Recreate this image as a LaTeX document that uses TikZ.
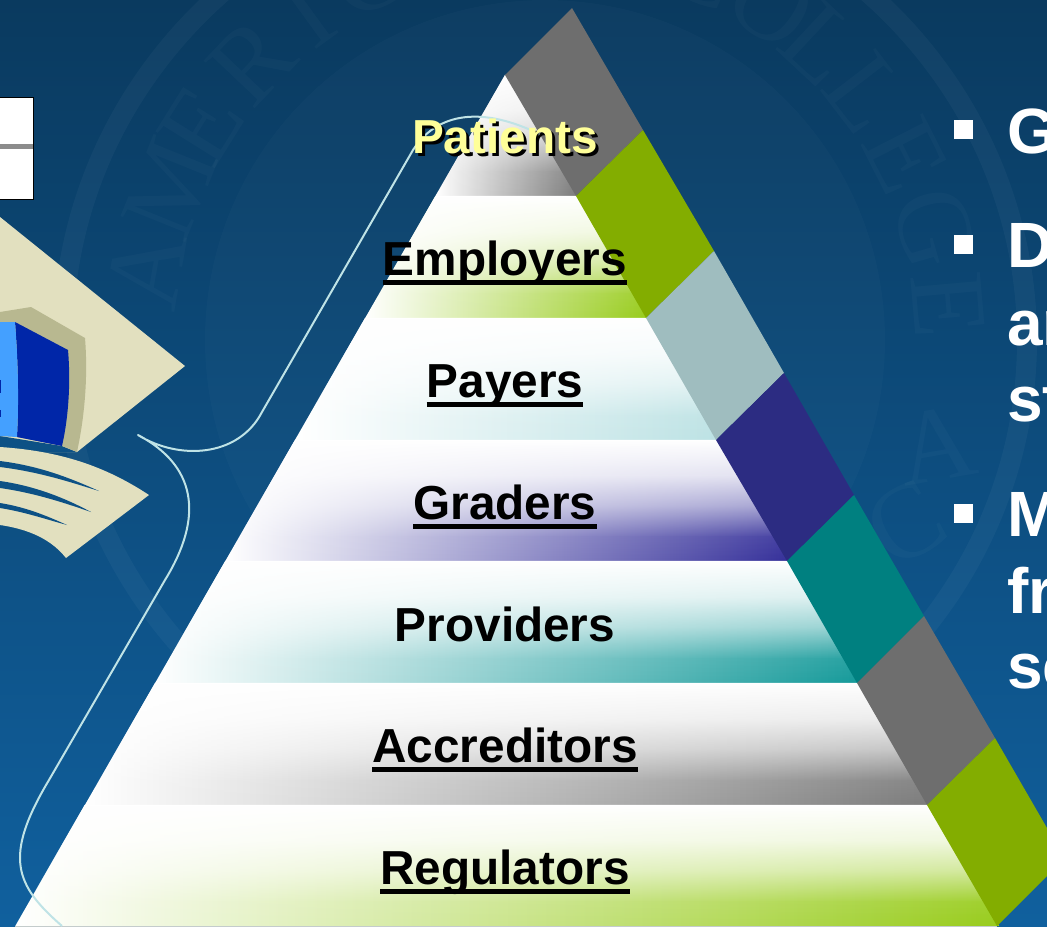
\documentclass[tikz,border=0pt]{standalone}
\usepackage{fontspec}
\setmainfont{Liberation Sans}
\newfontfamily\sealfont{Liberation Serif}
\usetikzlibrary{fadings}
\definecolor{bgtop}{HTML}{0A3A5F}
\definecolor{bgmid}{HTML}{0C4A7A}
\definecolor{bgbot}{HTML}{10609E}
\definecolor{capbeige}{HTML}{E2E0BF}
\definecolor{capolive}{HTML}{B8B890}
\definecolor{capdark}{HTML}{0026A8}
\definecolor{caplight}{HTML}{44A0FF}
\definecolor{bracecol}{HTML}{BFE3E6}
\definecolor{bandgray}{HTML}{6E6E6E}
\definecolor{bandgreen}{HTML}{83AD00}
\definecolor{bandpale}{HTML}{9FBDBF}
\definecolor{bandnavy}{HTML}{2C2C82}
\definecolor{bandteal}{HTML}{008080}
\definecolor{tiergray}{HTML}{7C7C7C}
\definecolor{tiergreen}{HTML}{98CC1C}
\definecolor{tierpale}{HTML}{BCE2E4}
\definecolor{tiernavy}{HTML}{35309A}
\definecolor{tierteal}{HTML}{159A9A}
\definecolor{tierrule}{HTML}{C4CCCC}
\definecolor{patientcol}{HTML}{FFFF99}
\newsavebox{\ulbox}
\newcommand{\ulword}[1]{\sbox{\ulbox}{#1}\rlap{\rule[-7.5pt]{\wd\ulbox}{3.6pt}}\usebox{\ulbox}}
\begin{tikzfadingfrompicture}[name=tierfade]
  \fill[transparent!0] (-50bp,24.8bp) rectangle (50bp,50bp);
  \shade[top color=transparent!0, bottom color=transparent!15] (-50bp,10bp) rectangle (50bp,25bp);
  \shade[top color=transparent!15, bottom color=transparent!45] (-50bp,-2.5bp) rectangle (50bp,10.2bp);
  \shade[top color=transparent!45, bottom color=transparent!92] (-50bp,-15bp) rectangle (50bp,-2.3bp);
  \shade[top color=transparent!92, bottom color=transparent!100] (-50bp,-25bp) rectangle (50bp,-14.8bp);
  \fill[transparent!100] (-50bp,-50bp) rectangle (50bp,-24.8bp);
\end{tikzfadingfrompicture}
% #1 top y, #2 bottom y, #3 colour; the right edge runs on beneath the side bands
\newcommand{\tier}[3]{%
  \shade[left color=white, middle color=#3!25!white, right color=#3]
    ({505-0.5755*(#1-75)},#1) -- ({507+0.5785*(#1-75)},#1) -- ({507+0.5785*(#2-75)},#2) -- ({505-0.5755*(#2-75)},#2) -- cycle;
  \fill[white, path fading=tierfade]
    ({505-0.5755*(#1-75)},#1) -- ({507+0.5785*(#1-75)},#1) -- ({507+0.5785*(#2-75)},#2) -- ({505-0.5755*(#2-75)},#2) -- cycle;
  \draw[tierrule, line width=0.5pt] ({505-0.5755*(#2-75)},#2) -- ({505+0.5785*(#2-75)},#2);
}
\tikzset{
  tierlabel/.style={anchor=base, inner sep=0pt, font=\fontsize{35.8}{40}\selectfont\bfseries, text=black},
  bodytext/.style={anchor=base west, inner sep=0pt, font=\fontsize{48}{52}\selectfont\bfseries, text=white},
  sealletter/.style={inner sep=0pt, font=\sealfont\fontsize{80}{80}\selectfont, text=white, text opacity=0.025},
  bullet/.style={fill=white, draw=none},
}
\begin{document}
\begin{tikzpicture}[x=0.75pt,y=-0.75pt]
\useasboundingbox (0,0) rectangle (1047,926);
\clip (0,0) rectangle (1047,926);
% background
\shade[top color=bgtop, middle color=bgmid, bottom color=bgbot] (0,0) rectangle (1047,926);
% faint seal
\draw[white, opacity=0.035, line width=15pt] (545,340) ellipse [x radius=482, y radius=468];
\fill[white, opacity=0.02] (545,340) circle [radius=340];
\foreach \l/\a/\r in {A/170/80,M/158/68,E/148/58,R/136.5/46.5,I/126/36,C/116/26,A/105/15,N/94/4,C/67/-23,O/56/-34,L/47/-43,L/37.5/-52.5,E/27/-63,G/16/-74,E/5/-85,A/-15/10,C/-27/30}{
  \node[sealletter, rotate=\r] at ({545+405*cos(\a)},{340-405*sin(\a)}) {\l};
}
% mortarboard at the left
\fill[capbeige] (0,217) -- (185,366) -- (77,452) -- (0,452) -- cycle;
\fill[bgmid!70!bgbot] (0,436) -- (62,446) -- (77,452) -- (0,452) -- cycle;
\fill[capolive] (0,312) -- (31,307) -- (85,338) .. controls (88,375) and (85,415) .. (77,452) -- (62,446) -- (17,437) -- (0,436) -- cycle;
\fill[capdark] (15,322) -- (68,350) .. controls (71,385) and (68,420) .. (62,446) -- (17,437) .. controls (19,400) and (18,360) .. (15,322) -- cycle;
\fill[caplight] (0,322) -- (15,322) .. controls (18,360) and (19,400) .. (17,437) -- (0,436) -- cycle;
\fill[capdark] (0,380) rectangle (1.5,393);
\fill[capdark] (0,410) rectangle (1.5,417);
\fill[capbeige] (0,447) .. controls (60,451) and (105,466) .. (149,495) -- (66,558) .. controls (48,535) and (20,528) .. (0,525) -- cycle;
\fill[bgmid!70!bgbot] (0,461) .. controls (40,466) and (70,478) .. (99,491) .. controls (70,482) and (40,472) .. (0,467) -- cycle;
\fill[bgmid!70!bgbot] (0,481) .. controls (35,486) and (65,498) .. (91,512) .. controls (65,503) and (35,493) .. (0,488) -- cycle;
\fill[bgmid!70!bgbot] (0,503) .. controls (25,507) and (45,515) .. (67,525) .. controls (45,519) and (25,512) .. (0,508) -- cycle;
% white box at the left
\fill[white] (0,97) rectangle (33,199);
\fill[black!45!white] (0,144) rectangle (33,149);
\draw[black, line width=0.7pt] (0,97) -- (33,97) -- (33,199) -- (0,199);
% tiers
\tier{75}{196}{tiergray}
\tier{196}{318}{tiergreen}
\tier{318}{440}{tierpale}
\tier{440}{561}{tiernavy}
\tier{561}{683}{tierteal}
\tier{683}{805}{tiergray}
\tier{805}{926}{tiergreen}
% bracket curve
\coordinate (tip) at (138,435);
\coordinate (upA) at (262,412);
\coordinate (upB) at (413,150);
\coordinate (upEnd) at (545,137);
\coordinate (lowA) at (165,580);
\coordinate (lowB) at (49,780);
\coordinate (lowEnd) at (62,926);
\draw[bracecol, line width=1.5pt, line join=round]
  (upEnd) .. controls (490,108) and (440,108) .. (upB) -- (upA)
  .. controls (238,458) and (178,460) .. (tip)
  .. controls (195,465) and (205,515) .. (lowA) -- (lowB)
  .. controls (3,857) and (15,885) .. (lowEnd);
% side bands
\fill[bandgray]  (505,75) -- (572,8) -- (643,130) -- (576,196) -- cycle;
\fill[bandgreen] (576,196) -- (643,130) -- (714,251) -- (646,318) -- cycle;
\fill[bandpale]  (646,318) -- (714,251) -- (784,373) -- (716,440) -- cycle;
\fill[bandnavy]  (716,440) -- (784,373) -- (854,495) -- (787,561) -- cycle;
\fill[bandteal]  (787,561) -- (854,495) -- (924,616) -- (857,683) -- cycle;
\fill[bandgray]  (857,683) -- (924,616) -- (995,738) -- (927,805) -- cycle;
\fill[bandgreen] (927,805) -- (995,738) -- (1047,828) -- (1047,876) -- (997,926) -- cycle;
% labels
\node[tierlabel, text=black] (patientsshadow) at (508,156) {Patients};
\node[tierlabel, text=patientcol] (patients) at (505,153) {Patients};
\node[tierlabel] (employers) at (505,275) {\ulword{Employers}};
\node[tierlabel] (payers) at (505,397) {\ulword{Payers}};
\node[tierlabel] (graders) at (505,519) {\ulword{Graders}};
\node[tierlabel] (providers) at (505,641) {Providers};
\node[tierlabel] (accreditors) at (505,762) {\ulword{Accreditors}};
\node[tierlabel] (regulators) at (505,884) {\ulword{Regulators}};
% right text
\fill[bullet] (954,120) rectangle (973,139);
\fill[bullet] (954,235) rectangle (973,254);
\fill[bullet] (954,504) rectangle (973,523);
\node[bodytext] (lineG) at (1007,153) {G};
\node[bodytext] (lineD) at (1007,267) {D};
\node[bodytext] (lineA) at (1007,345) {an};
\node[bodytext] (lineS) at (1007,421) {st};
\node[bodytext] (lineM) at (1007,536) {M};
\node[bodytext] (lineF) at (1007,613) {fr};
\node[bodytext] (lineE) at (1007,688) {se};
\end{tikzpicture}
\end{document}
